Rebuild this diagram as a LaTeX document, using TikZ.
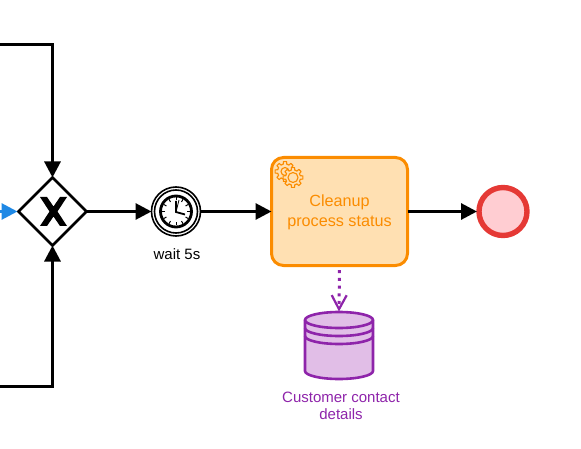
\documentclass[tikz,border=0pt]{standalone}
\usepackage{fontspec}
\setmainfont{Liberation Sans}
\usetikzlibrary{arrows.meta,shapes.geometric,calc}
\definecolor{bblue}{HTML}{1E88E5}
\definecolor{borange}{HTML}{FB8C00}
\definecolor{forange}{HTML}{FFE0B2}
\definecolor{bred}{HTML}{E53935}
\definecolor{fred}{HTML}{FFCDD2}
\definecolor{bpurple}{HTML}{8E24AA}
\definecolor{fpurple}{HTML}{E1BEE7}
\tikzset{
  flowtip/.style={-{Triangle[length=16pt,width=16pt]}},
  flowline/.style={line width=3pt,flowtip},
  gatewaybox/.style={diamond,draw=black,line width=2.8pt,fill=white,minimum width=68pt,minimum height=68pt,inner sep=0pt,outer sep=0pt,aspect=1},
  timerbox/.style={circle,draw=black,line width=1.6pt,fill=white,minimum size=49pt,inner sep=0pt,outer sep=0pt},
  taskbox/.style={rectangle,rounded corners=12pt,draw=borange,line width=3pt,fill=forange,text=borange,minimum width=136pt,minimum height=108pt,inner sep=0pt,outer sep=0pt,align=center,font=\fontsize{16.2}{20}\selectfont},
  endbox/.style={circle,draw=bred,line width=5.4pt,fill=fred,minimum size=48pt,inner sep=0pt,outer sep=2pt},
  storebox/.style={rectangle,minimum width=68pt,minimum height=68pt,inner sep=0pt,outer sep=0pt},
  caption/.style={font=\fontsize{15}{17.5}\selectfont,align=center,inner sep=0pt},
  gearline/.style={draw=borange,line width=1.1pt,line join=round},
  storeline/.style={draw=bpurple,line width=2.6pt},
}
\newcommand{\gearshape}[5]{% x,y,router,rinner,fill
  \filldraw[gearline,fill=#5]
    ({#1+#4*cos(-14)},{#2+#4*sin(-14)})
    \foreach \a in {0,45,...,315}{
      -- ({#1+#3*cos(\a-9)},{#2+#3*sin(\a-9)})
      -- ({#1+#3*cos(\a+9)},{#2+#3*sin(\a+9)})
      -- ({#1+#4*cos(\a+14)},{#2+#4*sin(\a+14)})
      -- ({#1+#4*cos(\a+31)},{#2+#4*sin(\a+31)})
    } -- cycle;
}
\begin{document}
\begin{tikzpicture}[x=1pt,y=-1pt]
\useasboundingbox (0,0) rectangle (581,449);
\node[gatewaybox] (gw) at (52.5,211.5) {};
\node[timerbox] (timer) at (176,211.5) {};
\node[taskbox] (task) at (339.5,211.5) {\raisebox{0pt}[\dimexpr\height+2pt\relax]{\shortstack{Cleanup\\[3pt]process status}}};
\node[endbox] (end) at (503,211.5) {};
\node[storebox] (store) at (339,345.5) {};
\node[caption] (waitlabel) at (177,254) {wait 5s};
\node[caption,text=bpurple] (storelabel) at (341,406) {Customer contact\\details};
\coordinate (topstart) at (0,45);
\coordinate (topcorner) at (52.5,45);
\coordinate (botstart) at (0,386);
\coordinate (botcorner) at (52.5,386);
\coordinate (bluestart) at (0,211.5);
% gateway X
\fill (40,197) -- (47,197) -- (53.5,206.5) -- (60,197) -- (67,197) -- (57.5,211.5) -- (67,226) -- (60,226) -- (53.5,216.5) -- (47,226) -- (40,226) -- (49.5,211.5) -- cycle;
% timer rings
\draw[line width=1.6pt] (timer.center) circle (21.5);
\draw[line width=2.8pt] (timer.center) circle (15.5);
\foreach \a in {0,30,...,330}{
  \draw[line width=1pt] ($(timer.center)+(\a:11)$) -- ($(timer.center)+(\a:14)$);
}
\draw[line width=1.8pt] (176,201) -- (176,212) -- (185,214.5);
\draw[line width=0.8pt] (176,212) -- (179,200);
% connectors
\draw[flowline,line join=miter] (topstart) -- (topcorner) -- (gw.north);
\draw[flowline,line join=miter] (botstart) -- (botcorner) -- (gw.south);
\draw[flowline,draw=bblue,fill=bblue,shorten >=1pt] (bluestart) -- (gw.west);
\draw[flowline] (gw.east) -- (timer.west);
\draw[flowline] (timer.east) -- (task.west);
\draw[flowline] (task.east) -- (end.west);
\draw[draw=bpurple,line width=3pt,dash pattern=on 3pt off 4.7pt,dash phase=3pt,-{Straight Barb[length=14pt,width=15pt,line width=2.2pt]}] (task.south) -- (store.north);
% task gears
\gearshape{285}{171.5}{10}{7.5}{forange}
\draw[gearline] (285,171.5) circle (4);
\gearshape{293}{177.5}{10}{7.5}{forange}
\draw[gearline] (293,177.5) circle (5);
% datastore
\draw[storeline,fill=fpurple]
  (305,320) arc[start angle=180,end angle=360,x radius=34,y radius=8]
  -- (373,371) arc[start angle=0,end angle=180,x radius=34,y radius=8] -- cycle;
\draw[storeline] (305,320) arc[start angle=180,end angle=0,x radius=34,y radius=8];
\draw[storeline] (305,328) arc[start angle=180,end angle=0,x radius=34,y radius=8];
\draw[storeline] (305,336) arc[start angle=180,end angle=0,x radius=34,y radius=8];
\end{tikzpicture}
\end{document}
